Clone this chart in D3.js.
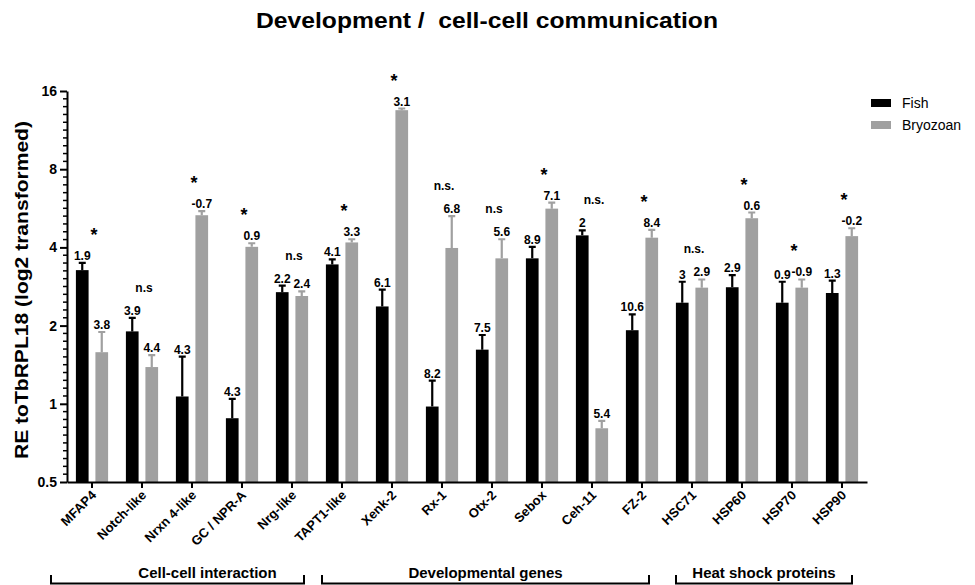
<!DOCTYPE html>
<html><head><meta charset="utf-8">
<script src="https://cdn.jsdelivr.net/npm/d3@7"></script>
<style>body{margin:0;background:#fff}svg{display:block;font-family:"Liberation Sans",Arial,sans-serif}</style>
</head><body><svg id="c" width="975" height="585"></svg>
<script>
const categories = ["MFAP4","Notch-like","Nrxn 4-like","GC / NPR-A","Nrg-like","TAPT1-like","Xenk-2","Rx-1","Otx-2","Sebox","Ceh-11","FZ-2","HSC71","HSP60","HSP70","HSP90"];
const series = ["Fish","Bryozoan"];
const fishMean  = [3.27,1.90,1.067,0.88,2.69,3.44,2.37,0.976,1.616,3.63,4.45,1.92,2.45,2.81,2.45,2.67];
const fishUpper = [3.49,2.14,1.52,1.045,2.85,3.60,2.75,1.227,1.84,4.02,4.65,2.21,2.95,3.13,2.95,2.98];
const bryoMean  = [1.58,1.385,5.32,4.02,2.60,4.18,13.5,3.98,3.63,5.64,0.805,4.36,2.80,5.18,2.80,4.42];
const bryoUpper = [1.89,1.54,5.52,4.15,2.71,4.30,13.7,5.28,4.30,5.95,0.86,4.67,3.01,5.45,3.01,4.74];
const fishLabels = ["1.9","3.9","4.3","4.3","2.2","4.1","6.1","8.2","7.5","8.9","2","10.6","3","2.9","0.9","1.3"];
const bryoLabels = ["3.8","4.4","-0.7","0.9","2.4","3.3","3.1","6.8","5.6","7.1","5.4","8.4","2.9","0.6","-0.9","-0.2"];
const sigLabels = ["*","n.s","*","*","n.s","*","*","n.s.","n.s","*","n.s.","*","n.s.","*","*","*"];
const yTicks = [0.5,1,2,4,8,16];
const groupNames = ["Cell-cell interaction","Developmental genes","Heat shock proteins"];
const groupFirst = ["MFAP4","TAPT1-like","HSC71"];
const groupLast  = ["Nrg-like","FZ-2","HSP90"];

const svg = d3.select("#c");
const colors = {Fish:"#000000", Bryozoan:"#a0a0a0"};
const plotTop = 91, plotBottom = 482, plotLeft = 67, plotRight = 867;

const y = d3.scaleLog().base(2).domain([0.5,16]).range([plotBottom, plotTop]);
const x = d3.scaleBand().domain(categories).range([plotLeft, plotRight]).padding(0);
const x1 = d3.scaleBand().domain(series).range([-16.1, 16.1]).paddingInner(0.35).paddingOuter(0);

const data = categories.map((c,i)=>({c, vals:[
  {s:"Fish", v:fishMean[i], up:fishUpper[i], lab:fishLabels[i]},
  {s:"Bryozoan", v:bryoMean[i], up:bryoUpper[i], lab:bryoLabels[i]}
], sig:sigLabels[i]}));

// title
svg.append("text").attr("x",487).attr("y",28).attr("text-anchor","middle")
  .style("white-space","pre")
  .attr("font-size",22).attr("font-weight","bold")
  .attr("textLength",462).attr("lengthAdjust","spacingAndGlyphs")
  .text("Development /  cell-cell communication");

// y label
svg.append("text").attr("transform","translate(28,290) rotate(-90)").attr("text-anchor","middle")
  .attr("font-size",18.5).attr("font-weight","bold")
  .attr("textLength",338).attr("lengthAdjust","spacingAndGlyphs")
  .text("RE toTbRPL18 (log2 transformed)");

// bars
const g = svg.append("g");
const cg = g.selectAll("g.cat").data(data).join("g").attr("class","cat")
  .attr("transform",d=>`translate(${x(d.c)+x.bandwidth()/2},0)`);
cg.selectAll("rect").data(d=>d.vals).join("rect")
  .attr("x",d=>x1(d.s)).attr("width",x1.bandwidth())
  .attr("y",d=>y(d.v)).attr("height",d=>plotBottom-y(d.v)).attr("fill",d=>colors[d.s]);
// error bars
cg.selectAll("path.err").data(d=>d.vals).join("path").attr("class","err")
  .attr("d",d=>{const cx=x1(d.s)+x1.bandwidth()/2;return `M${cx},${y(d.v)}V${y(d.up)}M${cx-3.5},${y(d.up)}H${cx+3.5}`;})
  .attr("stroke",d=>colors[d.s]).attr("stroke-width",2.2).attr("fill","none");
// value labels
cg.selectAll("text.val").data(d=>d.vals).join("text").attr("class","val")
  .attr("x",d=>x1(d.s)+x1.bandwidth()/2).attr("y",d=>y(d.up)-3)
  .attr("text-anchor","middle").attr("font-size",12).attr("font-weight","bold").text(d=>d.lab);
// significance
cg.append("text").attr("x",2)
  .attr("y",d=>{const t=Math.min(y(d.vals[0].up),y(d.vals[1].up)); return d.sig==="*"? t-30+8 : t-30+4;})
  .attr("text-anchor","middle").attr("font-weight","bold")
  .attr("font-size",d=>d.sig==="*"?18:12).text(d=>d.sig);

// y axis
const yAxis = g.append("g").attr("transform",`translate(${plotLeft},0)`)
  .call(d3.axisLeft(y).tickValues(yTicks).tickFormat(d=>String(d)).tickSize(7).tickSizeOuter(0));
yAxis.select(".domain").attr("stroke","#000").attr("stroke-width",2);
yAxis.selectAll(".tick line").attr("stroke-width",2);
yAxis.selectAll(".tick text").attr("font-size",14).attr("font-weight","bold").attr("fill","#000")
  .attr("font-family","Liberation Sans, Arial, sans-serif");
// minor ticks (10 subdivisions per doubling, evenly spaced in log)
const minor=[];
for(let k=0;k<yTicks.length-1;k++){for(let j=1;j<10;j++){minor.push(yTicks[k]*Math.pow(2,j/10));}}
g.append("g").selectAll("line").data(minor).join("line")
  .attr("x1",plotLeft-4).attr("x2",plotLeft).attr("y1",d=>y(d)).attr("y2",d=>y(d)).attr("stroke","#000").attr("stroke-width",1.5);

// x axis
const xAxis = g.append("g").attr("transform",`translate(0,${plotBottom})`)
  .call(d3.axisBottom(x).tickSize(6).tickSizeOuter(0).tickFormat(""));
xAxis.select(".domain").attr("stroke","#000").attr("stroke-width",2);
xAxis.selectAll(".tick line").attr("stroke-width",2);
g.append("g").selectAll("text").data(categories).join("text")
  .attr("transform",d=>`translate(${x(d)+x.bandwidth()/2+5},${plotBottom+14}) rotate(-45)`)
  .attr("text-anchor","end").attr("font-size",13).attr("font-weight","bold").text(d=>d);

// group brackets
const padL=[41,20,16], padR=[12,7,10], textDx=[30,0,0];
const by = 583.5, bt = 575;
groupNames.forEach((n,i)=>{
  const l = x(groupFirst[i])+x.bandwidth()/2-padL[i];
  const r = x(groupLast[i])+x.bandwidth()/2+padR[i];
  svg.append("path").attr("d",`M${l},${bt}V${by}H${r}V${bt}`).attr("stroke","#000").attr("stroke-width",2).attr("fill","none");
  svg.append("text").attr("x",(l+r)/2+textDx[i]).attr("y",578).attr("text-anchor","middle")
    .attr("font-size",15).attr("font-weight","bold").text(n);
});

// legend
const lg = svg.append("g").attr("transform","translate(871,99)");
series.forEach((s,i)=>{
  lg.append("rect").attr("x",0).attr("y",i*22).attr("width",20).attr("height",8).attr("fill",colors[s]);
  lg.append("text").attr("x",31).attr("y",i*22+9).attr("font-size",14).text(s);
});
</script></body></html>
